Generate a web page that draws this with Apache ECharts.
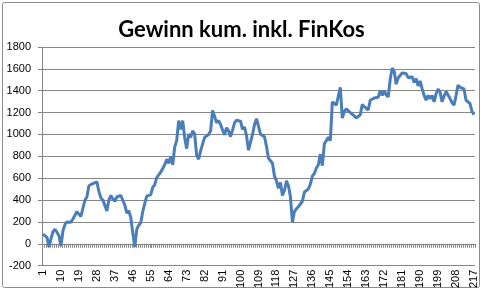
<!DOCTYPE html>
<html><head><meta charset="utf-8">
<script src="https://cdn.jsdelivr.net/npm/echarts@6/dist/echarts.min.js"></script>
<style>html,body{margin:0;padding:0;background:#fff}#c{width:483px;height:291px}</style>
</head><body><div id="c"></div>
<script>
var titleText = "Gewinn kum. inkl. FinKos";
var categories = [];
for (var i = 1; i <= 217; i++) categories.push(String(i));
var yTicks = [-200, 0, 200, 400, 600, 800, 1000, 1200, 1400, 1600, 1800];
var gewinn = [
 88, 73, 59, -29, 44, 110, 133, 105, 73, -20,
 118, 177, 200, 215, 197, 227, 221, 295, 270, 250,
 325, 398, 428, 531, 531, 551, 545, 566, 480, 419,
 400, 383, 301, 400, 442, 410, 389, 428, 410, 442,
 449, 354, 280, 304, 239, 100, -29, 133, 170, 192,
 295, 369, 436, 440, 449, 516, 540, 605, 590, 655,
 643, 723, 773, 737, 797, 723, 885, 944, 1127, 1047,
 1127, 973, 870, 1003, 973, 1033, 1003, 811, 773, 850,
 914, 973, 988, 1000, 1033, 1220, 1165, 1106, 1127, 1091,
 1040, 997, 1062, 1033, 980, 1040, 1106, 1130, 1144, 1121,
 1047, 1068, 988, 856, 870, 1000, 1091, 1144, 1136, 1003,
 990, 980, 891, 782, 760, 737, 620, 575, 507, 560,
 442, 487, 575, 531, 430, 197, 295, 320, 339, 330,
 389, 472, 490, 502, 546, 620, 643, 693, 723, 820,
 714, 914, 944, 973, 944, 1298, 1283, 1268, 1268, 1431,
 1150, 1210, 1233, 1224, 1200, 1195, 1170, 1150, 1165, 1180,
 1274, 1254, 1240, 1224, 1313, 1304, 1334, 1321, 1340, 1401,
 1357, 1401, 1363, 1342, 1504, 1608, 1578, 1460, 1519, 1540,
 1563, 1560, 1557, 1519, 1504, 1528, 1475, 1510, 1445, 1489,
 1420, 1357, 1313, 1357, 1328, 1357, 1298, 1372, 1416, 1387,
 1298, 1351, 1392, 1360, 1328, 1290, 1268, 1357, 1451, 1431,
 1440, 1416, 1313, 1300, 1283, 1210, 1180
];
var chart = echarts.init(document.getElementById('c'), null, {renderer: 'canvas'});
chart.setOption({
  animation: false,
  backgroundColor: '#ffffff',
  title: {
    text: titleText, left: 'center', top: 14,
    textStyle: {fontFamily: 'Lato', fontWeight: 'bold', fontSize: 22, color: '#000'}
  },
  graphic: [{type: 'rect', shape: {x: 2.5, y: 2.5, width: 477, height: 285, r: 2},
    style: {fill: 'none', stroke: '#8c8c8c', lineWidth: 1}, silent: true}],
  grid: {left: 42, right: 8, top: 47, bottom: 19, containLabel: false},
  xAxis: {
    type: 'category', data: categories, boundaryGap: true,
    axisLine: {onZero: true, lineStyle: {color: '#868686', width: 1}},
    axisTick: {show: true, interval: 0, length: 4, lineStyle: {color: '#868686'}},
    axisLabel: {interval: 8, rotate: 90, fontSize: 11, color: '#000', fontFamily: 'Liberation Sans', margin: 4},
    splitLine: {show: false}
  },
  yAxis: {
    type: 'value', min: yTicks[0], max: yTicks[yTicks.length - 1], interval: 200,
    axisLine: {show: true, lineStyle: {color: '#868686'}},
    axisTick: {show: true, length: 4, lineStyle: {color: '#868686'}},
    axisLabel: {fontSize: 11, color: '#000', fontFamily: 'Liberation Sans', margin: 11,
      formatter: function (v) { return String(v); }},
    splitLine: {show: true, lineStyle: {color: '#868686', width: 1}}
  },
  series: [{
    type: 'line', data: gewinn, symbol: 'none', smooth: false,
    lineStyle: {color: '#4a7ebb', width: 3}
  }]
});
</script></body></html>
